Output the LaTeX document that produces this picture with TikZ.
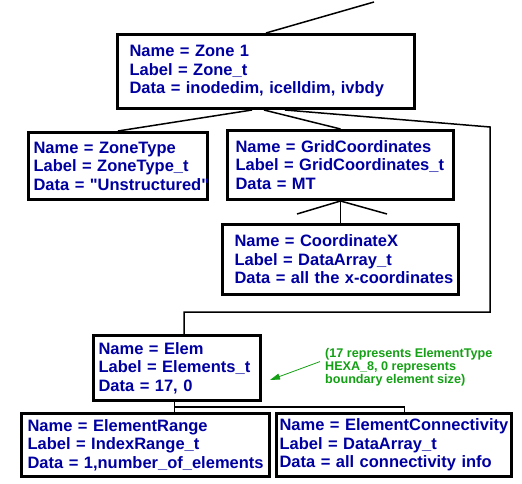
\documentclass[tikz,border=0pt]{standalone}
\usepackage{fontspec}
\setmainfont{Liberation Sans}
\usetikzlibrary{arrows.meta}
\definecolor{recblue}{RGB}{0,0,160}
\definecolor{notegreen}{RGB}{20,160,20}
\newcommand{\rec}[3]{\mbox{Name = #1}\\\mbox{Label = #2}\\\mbox{Data = #3}}
\tikzstyle{rec}=[draw=black,line width=3pt,text=recblue,anchor=north west,align=left,inner ysep=1pt,font={\fontsize{16.5}{18.5}\selectfont\bfseries}]
\tikzstyle{cn}=[line width=1.5pt]
\tikzstyle{note}=[text=notegreen,anchor=north west,align=left,inner sep=0pt,font={\fontsize{12.6}{13}\selectfont\bfseries}]

\begin{document}
\begin{tikzpicture}[x=1pt,y=-1pt]
\useasboundingbox (0,0) rectangle (522,484);
\node[rec,minimum width=297,minimum height=74,text width=273,inner xsep=12] (zone) at (116,33) {\rec{Zone 1}{Zone\_t}{inodedim, icelldim, ivbdy}};
\node[rec,minimum width=179,minimum height=67,text width=169,inner xsep=5] (ztype) at (27,131) {\rec{ZoneType}{ZoneType\_t}{\textquotedbl Unstructured\textquotedbl}};
\node[rec,minimum width=226,minimum height=69,text width=210,inner xsep=8] (grid) at (226,129) {\rec{GridCoordinates}{GridCoordinates\_t}{MT}};
\node[rec,minimum width=236,minimum height=70,text width=212,inner xsep=12] (coordx) at (221,223) {\rec{CoordinateX}{DataArray\_t}{all the x-coordinates}};
\node[rec,minimum width=167,minimum height=65,text width=157,inner xsep=5] (elem) at (92,334) {\rec{Elem}{Elements\_t}{17, 0}};
\node[rec,minimum width=248,minimum height=63,text width=236,inner xsep=6] (erange) at (20,412) {\rec{ElementRange}{IndexRange\_t}{1,number\_of\_elements}};
\node[rec,minimum width=235,minimum height=63,text width=229,inner xsep=3] (econn) at (275,412) {\rec{ElementConnectivity}{DataArray\_t}{all connectivity info}};
\node[note] (hexa) at (325,348.5) {(17 represents ElementType\\HEXA\_8, 0 represents\\boundary element size)};
% tree lines
\coordinate (up) at (374,2);
\coordinate (bend) at (490,127);
\coordinate (drop) at (490,312);
\coordinate (wl) at (297,214);
\coordinate (wr) at (387,214);
\coordinate (fork) at ([xshift=-2.5]elem.south);
\draw[cn] (up) -- (zone.north);
\draw[cn] ([xshift=-14]zone.south) -- (ztype.north);
\draw[cn] ([xshift=-2]zone.south) -- (grid.north);
\draw[cn] ([xshift=19]zone.south) -- (bend) -- (drop) -| ([xshift=7]elem.north);
\draw[cn] (grid.south) -- (coordx.north);
\draw[cn] (wl) -- (grid.south) -- (wr);
\draw[cn] (fork) -- (fork |- erange.north);
\draw[cn] (fork) -- ++(0,5) -| ([xshift=10.5]econn.north);
\draw[notegreen,line width=0.8pt,-{Triangle[length=10pt,width=6pt]}] ([xshift=-5,yshift=6]hexa.west) -- ([xshift=8,yshift=-12]elem.east);
\end{tikzpicture}
\end{document}
